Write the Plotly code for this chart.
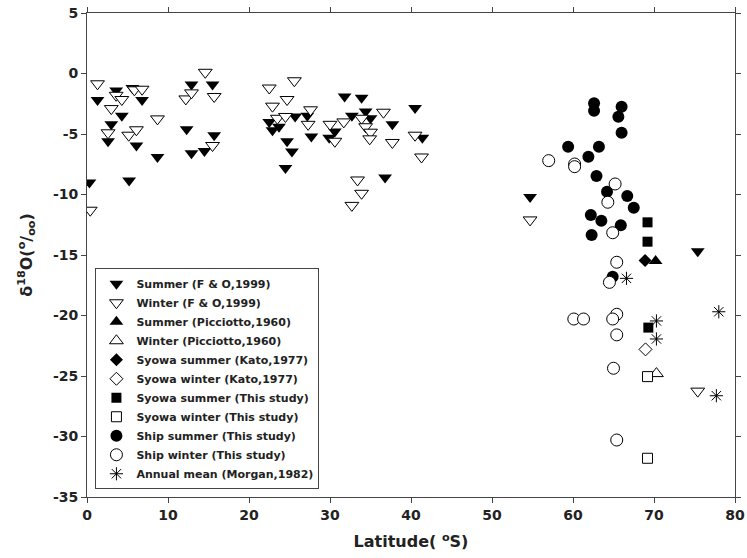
import plotly.graph_objects as go

# ---- data (latitude °S, δ18O ‰) ----
fo_summer_lat = [0.3, 1.3, 3.0, 2.6, 4.3, 3.6, 5.6, 6.8, 6.1, 5.2, 8.7, 12.3, 12.9, 14.5, 12.9, 15.5, 15.7,
                 22.5, 22.9, 23.7, 25.7, 24.7, 25.3, 24.5, 27.2, 27.7, 29.9, 30.6, 31.8, 33.9, 32.7, 34.4,
                 35.0, 37.7, 40.5, 41.4, 36.8, 54.7, 75.4]
fo_summer_d18 = [-9.0, -2.2, -4.2, -5.6, -3.5, -1.4, -1.2, -2.2, -5.95, -8.85, -6.9, -4.6, -6.6, -6.4, -0.9, -0.9, -5.1,
                 -4.0, -4.7, -4.4, -3.55, -5.6, -6.45, -7.8, -3.5, -5.2, -5.3, -4.8, -1.9, -2.0, -3.5, -3.15,
                 -3.7, -4.2, -2.85, -5.3, -8.6, -10.2, -14.7]

fo_winter_lat = [1.3, 3.6, 4.3, 3.0, 2.6, 5.15, 6.1, 5.85, 6.8, 8.7, 12.2, 12.9, 14.6, 15.7, 15.5,
                 22.5, 22.9, 23.5, 24.5, 25.6, 24.7, 27.6, 27.3, 30.0, 30.6, 31.7, 33.9, 34.4, 35.0, 34.9,
                 36.6, 37.7, 40.5, 41.3, 33.4, 33.9, 32.7, 0.4, 54.7, 75.4]
fo_winter_d18 = [-0.85, -1.8, -2.15, -2.9, -4.9, -5.1, -4.65, -1.35, -1.3, -3.75, -2.1, -1.6, 0.1, -1.9, -5.95,
                 -1.2, -2.7, -3.7, -3.55, -0.6, -2.15, -3.0, -4.2, -4.2, -5.6, -4.0, -3.7, -4.4, -4.85, -5.4,
                 -3.2, -5.7, -5.1, -6.9, -8.8, -9.9, -10.9, -11.3, -12.1, -26.25]

pic_summer_lat = [70.2]
pic_summer_d18 = [-15.5]
pic_winter_lat = [70.3]
pic_winter_d18 = [-24.8]

kato_summer_lat = [68.9]
kato_summer_d18 = [-15.45]
kato_winter_lat = [68.95]
kato_winter_d18 = [-22.8]

syowa_summer_lat = [69.2, 69.2, 69.3]
syowa_summer_d18 = [-12.3, -13.9, -21.0]
syowa_winter_lat = [69.2, 69.2]
syowa_winter_d18 = [-25.05, -31.8]

ship_summer_lat = [62.6, 62.6, 66.0, 65.6, 66.0, 59.4, 63.2, 61.9, 62.9, 64.2, 66.7, 67.5, 62.2, 63.5, 65.9, 62.3, 64.9]
ship_summer_d18 = [-2.46, -3.07, -2.74, -3.57, -4.89, -6.05, -6.05, -6.88, -8.47, -9.77, -10.12, -11.09, -11.69,
                   -12.17, -12.55, -13.35, -16.8]

ship_winter_lat = [57.0, 60.2, 60.2, 65.2, 64.3, 64.9, 65.4, 64.5, 60.1, 61.3, 65.4, 64.9, 65.4, 65.0, 65.4]
ship_winter_d18 = [-7.2, -7.48, -7.7, -9.13, -10.64, -13.16, -15.6, -17.26, -20.29, -20.29, -19.9, -20.29,
                   -21.6, -24.36, -30.29]

morgan_lat = [66.6, 78.0, 70.3, 70.3, 77.7]
morgan_d18 = [-16.93, -19.69, -20.45, -21.94, -26.63]

x_ticks = [0, 10, 20, 30, 40, 50, 60, 70, 80]
y_ticks = [5, 0, -5, -10, -15, -20, -25, -30, -35]

FONT = "DejaVu Sans"
BLACK = "black"

fig = go.Figure()


def add(name, lat, d18, symbol, size, filled=True):
    if symbol == "asterisk-open":
        marker = dict(symbol=symbol, size=size, color=BLACK, line=dict(color=BLACK, width=1))
    elif filled:
        marker = dict(symbol=symbol, size=size, color=BLACK, line=dict(color=BLACK, width=0))
    else:
        marker = dict(symbol=symbol, size=size, color="white", line=dict(color=BLACK, width=1))
    fig.add_trace(go.Scatter(x=lat, y=d18, mode="markers", name=name, marker=marker))


add("Summer (F & O,1999)", fo_summer_lat, fo_summer_d18, "triangle-down", 12)
add("Winter (F & O,1999)", fo_winter_lat, fo_winter_d18, "triangle-down", 12, False)
add("Summer (Picciotto,1960)", pic_summer_lat, pic_summer_d18, "triangle-up", 12)
add("Winter (Picciotto,1960)", pic_winter_lat, pic_winter_d18, "triangle-up", 12, False)
add("Syowa summer (Kato,1977)", kato_summer_lat, kato_summer_d18, "diamond", 10)
add("Syowa winter (Kato,1977)", kato_winter_lat, kato_winter_d18, "diamond", 10, False)
add("Syowa summer (This study)", syowa_summer_lat, syowa_summer_d18, "square", 10)
add("Syowa winter (This study)", syowa_winter_lat, syowa_winter_d18, "square", 10, False)
add("Ship summer (This study)", ship_summer_lat, ship_summer_d18, "circle", 12)
add("Ship winter (This study)", ship_winter_lat, ship_winter_d18, "circle", 12, False)
add("Annual mean (Morgan,1982)", morgan_lat, morgan_d18, "asterisk-open", 11)

axis_common = dict(
    showline=True, linecolor="#444", linewidth=1, mirror="ticks",
    ticks="outside", ticklen=5, tickcolor="#444", tickwidth=1,
    showgrid=False, zeroline=False, automargin=False, ticklabeloverflow="allow",
    tickfont=dict(family=FONT, size=14, color="#222", weight="bold"),
)

fig.update_layout(
    width=747, height=558,
    margin=dict(l=87, r=12, t=13, b=61),
    paper_bgcolor="white", plot_bgcolor="white",
    font=dict(family=FONT, color="#222"),
    xaxis=dict(range=[0, 80], tickvals=x_ticks, ticktext=[str(v) for v in x_ticks],
               title=dict(text="Latitude( <sup>o</sup>S)",
                          font=dict(family=FONT, size=16, color="#222", weight="bold"), standoff=14),
               **axis_common),
    yaxis=dict(range=[-35, 5], tickvals=y_ticks, ticktext=[str(v) for v in y_ticks],
               title=dict(text="δ<sup>18</sup>O(<sup>o</sup>/<sub>oo</sub>)",
                          font=dict(family=FONT, size=16, color="#222", weight="bold"), standoff=16),
               **axis_common),
    legend=dict(x=0.013, y=0.016, xanchor="left", yanchor="bottom",
                bgcolor="white", bordercolor="#444", borderwidth=1,
                font=dict(family=FONT, size=11, color="#222", weight="bold"),
                tracegroupgap=0, itemwidth=30),
    showlegend=True,
)

# remove the browser's default 8px body margin so the figure fills the window exactly
fig.write_html("out.html", config={"displayModeBar": False},
               post_script="document.body.style.margin='0px';")
